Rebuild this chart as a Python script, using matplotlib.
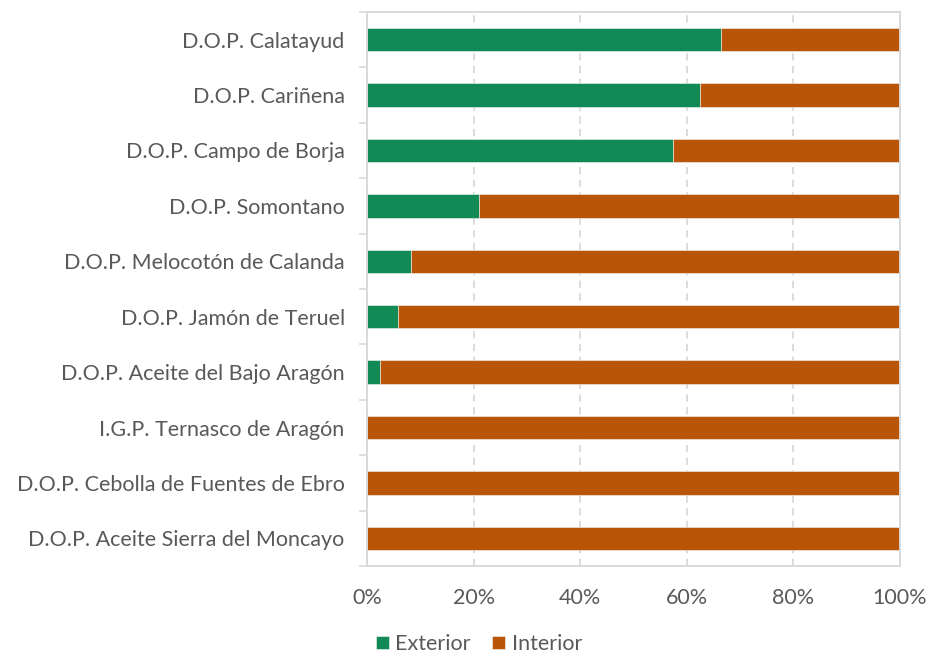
import matplotlib.pyplot as plt
import numpy as np
from matplotlib.ticker import PercentFormatter, FixedLocator

plt.rcParams['font.family'] = ['Lato', 'DejaVu Sans']

# data
categorias = ['D.O.P. Calatayud', 'D.O.P. Cariñena', 'D.O.P. Campo de Borja',
              'D.O.P. Somontano', 'D.O.P. Melocotón de Calanda',
              'D.O.P. Jamón de Teruel', 'D.O.P. Aceite del Bajo Aragón',
              'I.G.P. Ternasco de Aragón', 'D.O.P. Cebolla de Fuentes de Ebro',
              'D.O.P. Aceite Sierra del Moncayo']
exterior = [66.5, 62.5, 57.4, 21.0, 8.2, 5.9, 2.4, 0.0, 0.0, 0.0]
interior = [100 - v for v in exterior]

verde = '#128A56'
naranja = '#B85506'
gris_txt = '#595959'
gris_lin = '#D9D9D9'

fig = plt.figure(figsize=(9.29, 6.58), dpi=100)
ax = fig.add_axes([0.395, 0.1398, 0.5738, 0.842])

y = np.arange(len(categorias))
ax.barh(y, exterior, height=0.42, color=verde, edgecolor='#f4f4f4', linewidth=0.4, label='Exterior')
ax.barh(y, interior, left=exterior, height=0.42, color=naranja, edgecolor='#f4f4f4', linewidth=0.4, label='Interior')

ax.set_xlim(0, 100)
ax.set_ylim(len(categorias) - 0.5, -0.5)
ax.set_yticks(y)
ax.set_yticklabels(categorias)
ax.yaxis.set_minor_locator(FixedLocator(np.arange(-0.5, len(categorias), 1.0)))
ax.tick_params(axis='y', which='major', length=0, pad=16, labelsize=15.5, labelcolor=gris_txt)
ax.tick_params(axis='y', which='minor', length=6, width=1.2, color=gris_lin)

ax.set_xticks([0, 20, 40, 60, 80, 100])
ax.xaxis.set_major_formatter(PercentFormatter(decimals=0))
ax.tick_params(axis='x', length=0, pad=16, labelsize=15.5, labelcolor=gris_txt)

ax.grid(axis='x', linestyle=(0, (4, 3)), color=gris_lin, linewidth=1.3)
ax.set_axisbelow(True)
for s in ax.spines.values():
    s.set_color(gris_lin)
    s.set_linewidth(1.4)

fig.legend(loc='center', bbox_to_anchor=(479 / 929, 1 - 644 / 658), ncol=2, frameon=False,
           fontsize=15.5, labelcolor=gris_txt, handlelength=0.6, handleheight=0.6,
           handletextpad=0.3, columnspacing=1.0, borderpad=0.1)

fig.savefig('out.png', dpi=100, facecolor='white')
